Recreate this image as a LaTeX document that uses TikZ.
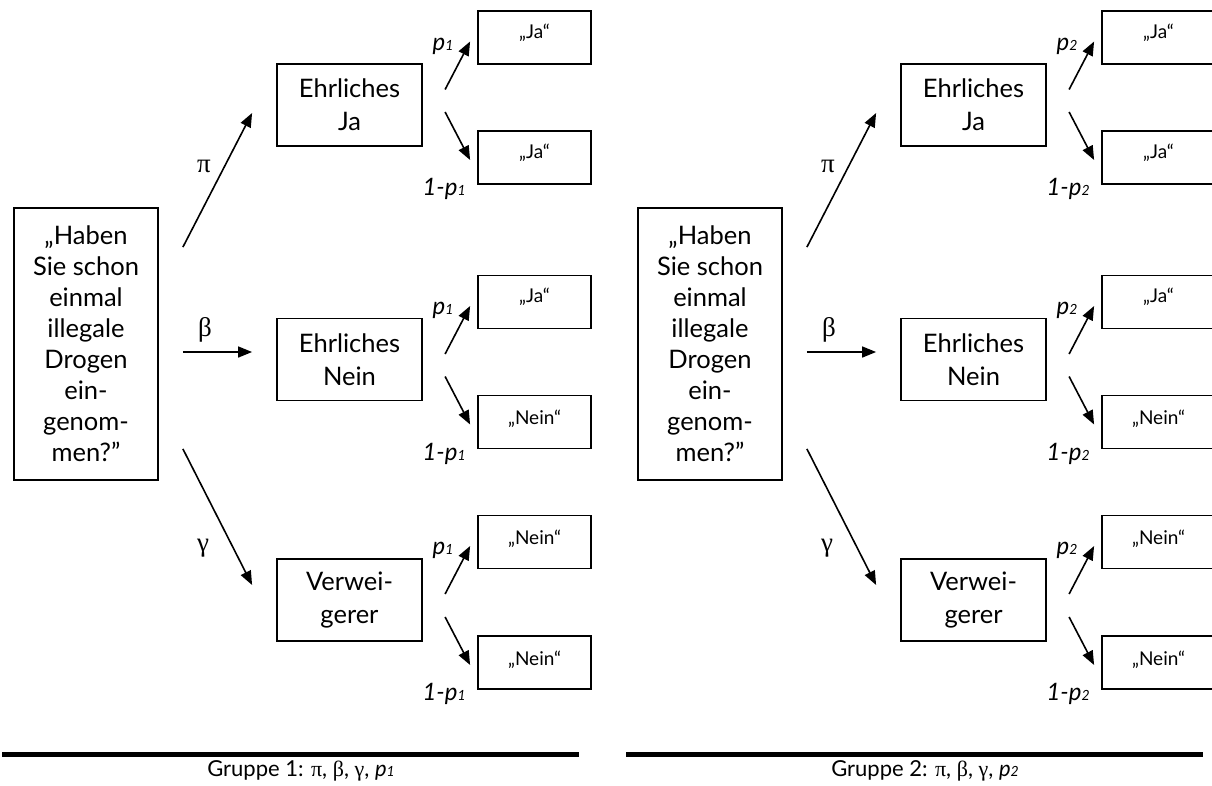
\documentclass[tikz,border=0pt]{standalone}
\usepackage{fontspec}
\setmainfont{Lato}
\newfontfamily\greekfont{Liberation Serif}
\usetikzlibrary{arrows.meta,calc}

% Greek parameter symbols in a serif face
\newcommand\gk[1]{{\greekfont #1}}
% italic p with a small index digit on the baseline
\newcommand\pidx[1]{{\itshape p{\fontsize{14}{14}\selectfont #1}}}

\tikzset{
  qbox/.style={draw, line width=1.8pt, minimum width=144pt, minimum height=272pt,
    align=center, inner sep=0pt, font=\fontsize{25.5}{31}\selectfont},
  midbox/.style={draw, line width=1.8pt, minimum width=145pt, minimum height=82pt,
    align=center, inner sep=0pt, font=\fontsize{25.5}{33}\selectfont},
  leafbox/.style={draw, line width=1.8pt, minimum width=113pt, minimum height=53pt, inner sep=0pt},
  leaftext/.style={anchor=base, inner sep=0pt, font=\fontsize{19}{19}\selectfont},
  arr/.style={line width=1.6pt, -{Triangle[length=14pt,width=11pt]}},
  plabel/.style={anchor=base, inner sep=0pt, font=\fontsize{24}{24}\selectfont\itshape},
  glabel/.style={inner sep=0pt, font=\fontsize{27}{27}\selectfont\greekfont},
  caption/.style={inner sep=0pt, font=\fontsize{22}{22}\selectfont},
  rulebar/.style={line width=5pt},
}

% one branching pair: #1 upper leaf, #2 lower leaf, #3 group index
\newcommand\fork[3]{%
  \draw[arr] ($(#1.west)+(-32,52)$) -- ($(#1.west)+(-7,4)$);
  \draw[arr] ($(#2.west)+(-32,-45.5)$) -- ($(#2.west)+(-7,2.5)$);
  \node[plabel] at ($(#1.west)+(-34,12.5)$) {\pidx{#3}};
  \node[plabel] at ($(#2.south west)+(-33,11)$) {1-\pidx{#3}};
}

% one complete tree: #1 group index, #2 horizontal offset
\newcommand\panel[2]{%
  \node[qbox] (q#1) at ({86+#2},344)
    {„Haben\\Sie schon\\einmal\\illegale\\Drogen\\ein-\\genom-\\men?”};
  \node[midbox] (ja#1)   at ({349.5+#2},105)   {Ehrliches\\Ja};
  \node[midbox] (nein#1) at ({349.5+#2},359.5) {Ehrliches\\Nein};
  \node[midbox] (verw#1) at ({349.5+#2},600)   {Verwei-\\gerer};
  \node[leafbox] (jaA#1)   at ({534.5+#2},37.5)  {};
  \node[leafbox] (jaB#1)   at ({534.5+#2},157.5) {};
  \node[leafbox] (neinA#1) at ({534.5+#2},302)   {};
  \node[leafbox] (neinB#1) at ({534.5+#2},422)   {};
  \node[leafbox] (verwA#1) at ({534.5+#2},542)   {};
  \node[leafbox] (verwB#1) at ({534.5+#2},662.5) {};
  \node[leaftext] at ($(jaA#1.north)+(0,28)$)   {„Ja“};
  \node[leaftext] at ($(jaB#1.north)+(0,28)$)   {„Ja“};
  \node[leaftext] at ($(neinA#1.north)+(0,28)$) {„Ja“};
  \node[leaftext] at ($(neinB#1.north)+(0,30)$) {„Nein“};
  \node[leaftext] at ($(verwA#1.north)+(0,30)$) {„Nein“};
  \node[leaftext] at ($(verwB#1.north)+(0,30)$) {„Nein“};
  % first branching from the question
  \draw[arr] ($(q#1.north east)+(24,40)$) -- ($(ja#1.west)+(-24,8)$);
  \draw[arr] ($(q#1.east)+(24,8)$) -- ($(nein#1.west)+(-24,-7.5)$);
  \draw[arr] ($(q#1.south east)+(24,-32)$) -- ($(verw#1.west)+(-24,-15)$);
  \node[glabel] at ({204+#2},166) {π};
  \node[glabel] at ({205+#2},330) {β};
  \node[glabel] at ({203+#2},548) {γ};
  % second branching
  \fork{jaA#1}{jaB#1}{#1}
  \fork{neinA#1}{neinB#1}{#1}
  \fork{verwA#1}{verwB#1}{#1}
  % group caption
  \draw[rulebar] ({2+#2},754) -- ({579+#2},754);
  \node[caption] at ({301+#2},771) {Gruppe #1: \gk{π}, \gk{β}, \gk{γ}, \pidx{#1}};
}

\begin{document}
\begin{tikzpicture}[x=1pt, y=-1pt]
  \useasboundingbox (0,0) rectangle (1212,785);
  \clip (0,0) rectangle (1212,785);
  \panel{1}{0}
  \panel{2}{624}
\end{tikzpicture}
\end{document}
